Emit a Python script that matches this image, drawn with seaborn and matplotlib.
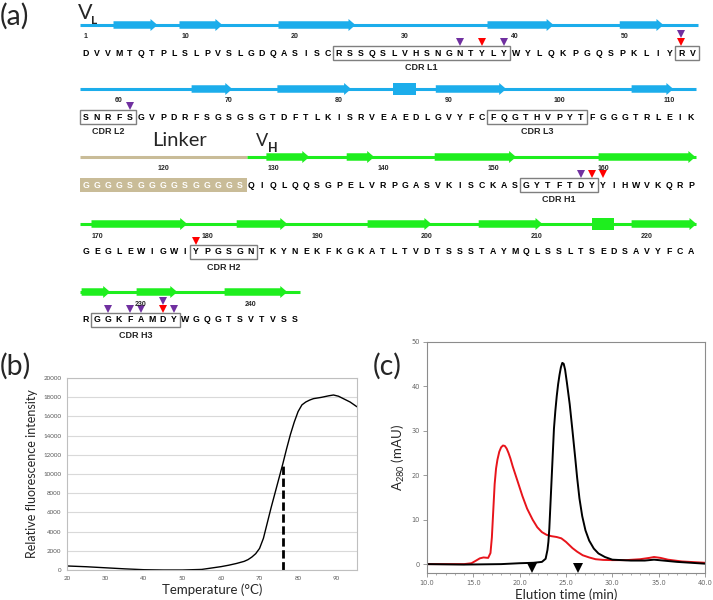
import numpy as np
import matplotlib
matplotlib.use("Agg")
import matplotlib.pyplot as plt
import seaborn as sns
from matplotlib.patches import FancyArrow, Rectangle

# -------------------------
# Data
# -------------------------
# (a) scFv sequence, one string per printed row
ROW_SEQS = [
    "DVVMTQTPLSLPVSLGDQASISCRSSQSLVHSNGNTYLYWYLQKPGQSPKLIYRV",
    "SNRFSGVPDRFSGSGSGTDFTLKISRVEAEDLGVYFCFQGTHVPYTFGGGTRLEIK",
    "GGGGSGGGGSGGGGSQIQLQQSGPELVRPGASVKISCKASGYTFTDYYIHWVKQRP",
    "GEGLEWIGWIYPGSGNTKYNEKFKGKATLTVDTSSSTAYMQLSSLTSEDSAVYFCA",
    "RGGKFAMDYWGQGTSVTVSS",
]
ROW_START = [1, 56, 112, 168, 224]
ROW_NUMBERS = [[1, 10, 20, 30, 40, 50], [60, 70, 80, 90, 100, 110],
               [120, 130, 140, 150, 160], [170, 180, 190, 200, 210, 220], [230, 240]]
CDR_NAMES = ["CDR L1", "CDR L2", "CDR L3", "CDR H1", "CDR H2", "CDR H3"]
CDR_FIRST = [24, 54, 93, 152, 178, 225]
CDR_LAST = [39, 60, 101, 158, 183, 232]
LINKER = (112, 126)
VL_STRANDS = [(3.5, 7.5), (9.5, 13.4), (18.5, 25.5), (37.5, 43.2), (48.8, 52.5),
              (65.6, 69.3), (73.4, 80.1), (87.8, 94.2), (105.6, 109.4)]
VL_HELIX = [(83.9, 86.0)]
VH_STRANDS = [(128.4, 132.3), (135.7, 138.2), (143.7, 151.1), (158.6, 167.4),
              (168.5, 177.2), (181.7, 186.3), (193.6, 199.4), (203.7, 209.5),
              (217.6, 223.5), (223.6, 226.2), (228.6, 232.3), (236.6, 242.3)]
VH_HELIX = [(214.0, 216.0)]
PURPLE_RES = [35, 39, 54, 60, 157, 226, 228, 229, 231, 232]
RED_RES = [37, 54, 158, 159, 178, 231]

# (b) thermal shift curve
TEMP = [20, 25, 30, 35, 40, 45, 50, 55, 60, 62, 64, 66, 67, 68, 69, 70, 71, 72, 73, 74,
        75, 76, 77, 78, 79, 80, 81, 82, 83, 84, 86, 88, 89.2, 90.5, 92, 93.5, 95.3]
FLUOR = [420, 340, 230, 120, 30, 0, 0, 60, 350, 500, 680, 900, 1080, 1350, 1700, 2250,
         3300, 4900, 6500, 8000, 9500, 11000, 12600, 14100, 15400, 16500, 17200, 17500,
         17700, 17850, 17980, 18150, 18230, 18100, 17800, 17500, 17000]
TM = 76.0
TM_HEIGHT = 11100

# (c) size exclusion chromatograms
RED_T = [10, 12, 14, 14.8, 15.3, 15.7, 16.1, 16.6, 16.85, 17.0, 17.15, 17.3, 17.45, 17.6,
         17.8, 18.0, 18.2, 18.4, 18.6, 18.8, 19.0, 19.25, 19.8, 20.3, 20.8, 21.4, 21.9,
         22.4, 22.9, 23.4, 24.0, 24.5, 25.0, 25.7, 26.2, 26.8, 27.5, 28.2, 29.0, 30.0,
         31.5, 33.0, 34.0, 34.5, 35.2, 36.0, 37.5, 40.0]
RED_A = [0, 0, 0, 0.2, 0.8, 1.3, 1.5, 1.4, 2.5, 6, 12, 18, 21.5, 23.5, 25.3, 26.3, 26.7,
         26.6, 26.0, 25.0, 23.8, 22, 18.5, 15.3, 12.5, 10, 8.3, 7.2, 6.6, 6.3, 6.1, 5.8,
         5.0, 3.6, 2.8, 2.0, 1.5, 1.1, 0.95, 0.9, 0.9, 1.1, 1.4, 1.6, 1.4, 1.0, 0.6, 0.3]
BLACK_T = [10, 14, 18, 20, 21.5, 22.4, 22.8, 23.0, 23.1, 23.2, 23.3, 23.4, 23.5, 23.6, 23.7,
           23.85, 24.0, 24.15, 24.3, 24.45, 24.6, 24.75, 24.9, 25.1, 25.4, 25.7, 26.0, 26.2,
           26.45, 26.75, 27.1, 27.5, 28.0, 28.5, 29.2, 30.0, 32.0, 33.5, 34.5, 35.5, 37.0,
           38.5, 40.0]
BLACK_A = [0, -0.1, 0, 0.2, 0.3, 0.5, 1.2, 3.2, 5, 8, 12.5, 17, 21.5, 26, 30.5, 34.5, 37.8,
           40.5, 42.6, 44.3, 45.3, 45.1, 43.8, 40.8, 36, 30, 23.8, 19.5, 14.8, 10.8, 7.6,
           5.3, 3.5, 2.4, 1.6, 1.0, 0.8, 0.8, 1.0, 0.8, 0.5, 0.3, 0.1]
MARKER_T = [21.3, 26.3]
MARKER_A = [-0.9, -0.9]

# -------------------------
# Style
# -------------------------
sns.set_style("white")
plt.rcParams["font.family"] = ["Lato", "DejaVu Sans"]
SEQ_FONT = "Liberation Sans"
BLUE = "#1CADEB"
GREEN = "#1EEE1E"
TAN = "#C9BC98"
PURPLE = "#7030A0"
RED = "#FF0000"

fig = plt.figure(figsize=(7.13, 6.0), dpi=100)

# -------------------------
# (a) sequence map, drawn in pixel-like units
# -------------------------
ax = fig.add_axes([0, 0, 1, 1])
ax.set_xlim(0, 713)
ax.set_ylim(600, 0)
ax.axis("off")

X0, PITCH = 86, 11.0
LINE_Y = [25, 89, 157, 224, 292]


def res_x(res, row):
    idx = res - ROW_START[row]
    if row == 0:
        # first row is set slightly looser after the CDR L1 box
        return np.interp(idx, [0, 38, 54], [86, 504, 693])
    return X0 + PITCH * idx


def row_of(res):
    return max(i for i, s in enumerate(ROW_START) if res >= s)


for row, seq in enumerate(ROW_SEQS):
    ly = LINE_Y[row]
    first, last = ROW_START[row], ROW_START[row] + len(seq) - 1
    color = BLUE if row < 2 else GREEN
    x_start, x_end = res_x(first, row) - 6, res_x(last, row) + 5
    if row == 2:
        x_link = res_x(LINKER[1], row) + 7
        ax.plot([x_start, x_link], [ly, ly], color=TAN, lw=2.2, solid_capstyle="butt")
        ax.plot([x_link, x_end], [ly, ly], color=color, lw=2.2, solid_capstyle="butt")
    else:
        ax.plot([x_start, x_end], [ly, ly], color=color, lw=2.2, solid_capstyle="butt")
    # residue letters
    for i, ch in enumerate(seq):
        res = first + i
        in_linker = LINKER[0] <= res <= LINKER[1]
        ax.text(res_x(res, row), ly + 28, ch, ha="center", va="center", fontsize=6.3,
                fontweight="bold", family=SEQ_FONT, color="white" if in_linker else "black",
                zorder=4)
    # residue numbers
    shift = 0 if row == 0 else 1
    for n in ROW_NUMBERS[row]:
        ax.text(X0 + PITCH * (n - first - shift), ly + 12, str(n), ha="center", va="center",
                fontsize=5, fontweight="bold", family=SEQ_FONT)

# linker box
ly = LINE_Y[2]
x0, x1 = res_x(LINKER[0], 2) - 6, res_x(LINKER[1], 2) + 7
ax.add_patch(Rectangle((x0, ly + 21), x1 - x0, 14, color=TAN, lw=0, zorder=2))

# secondary structure
for strands, helices in [(VL_STRANDS, VL_HELIX), (VH_STRANDS, VH_HELIX)]:
    for a, b in strands:
        row = row_of((a + b) / 2)
        xa, xb = res_x(a, row), res_x(b, row)
        ax.add_patch(FancyArrow(xa, LINE_Y[row], xb - xa, 0, width=7.5, head_width=12,
                                head_length=7, length_includes_head=True, lw=0,
                                color=BLUE if row < 2 else GREEN, zorder=3))
    for a, b in helices:
        row = row_of((a + b) / 2)
        xa, xb = res_x(a, row), res_x(b, row)
        ax.add_patch(Rectangle((xa, LINE_Y[row] - 6), xb - xa, 12, lw=0,
                               color=BLUE if row < 2 else GREEN, zorder=3))

# CDR boxes and labels
for name, a, b in zip(CDR_NAMES, CDR_FIRST, CDR_LAST):
    segs = []
    for row in range(len(ROW_SEQS)):
        lo = max(a, ROW_START[row])
        hi = min(b, ROW_START[row] + len(ROW_SEQS[row]) - 1)
        if lo <= hi:
            segs.append((row, lo, hi))
    for row, lo, hi in segs:
        xa, xb = res_x(lo, row) - 6, res_x(hi, row) + 6
        ax.add_patch(Rectangle((xa, LINE_Y[row] + 21), xb - xa, 14, fill=False,
                               ec="#7F7F7F", lw=1.0, zorder=3))
    row, lo, hi = segs[-1]
    ax.text((res_x(lo, row) + res_x(hi, row)) / 2, LINE_Y[row] + 43, name, ha="center",
            va="center", fontsize=6.5, fontweight="bold", family=SEQ_FONT)

# contact markers
for res in sorted(set(PURPLE_RES + RED_RES)):
    row = row_of(res)
    x, y = res_x(res, row), LINE_Y[row] + 17
    if res in RED_RES:
        ax.plot(x, y, marker="v", ms=5.5, color=RED, mew=0)
        y -= 8
    if res in PURPLE_RES:
        ax.plot(x, y, marker="v", ms=5.5, color=PURPLE, mew=0)

# region titles
ax.text(78, 13, "V", fontsize=15.5, va="center", ha="left")
ax.text(91, 20, "L", fontsize=8.5, va="center", ha="left", fontweight="bold")
ax.text(256, 141, "V", fontsize=13, va="center", ha="left")
ax.text(268, 148, "H", fontsize=9, va="center", ha="left", fontweight="bold")
ax.text(152, 140, "Linker", fontsize=14.5, va="center", ha="left")

# panel letters
ax.text(0, 16, "(a)", fontsize=20.5, va="center", ha="left")
ax.text(0, 366, "(b)", fontsize=20.5, va="center", ha="left")
ax.text(373, 366, "(c)", fontsize=20.5, va="center", ha="left")

# -------------------------
# (b) thermal shift assay
# -------------------------
axb = fig.add_axes([67 / 713, 30 / 600, 290 / 713, 192 / 600])
sns.lineplot(x=TEMP, y=FLUOR, ax=axb, color="black", linewidth=1.0, sort=False, estimator=None)
axb.plot([TM, TM], [0, TM_HEIGHT], color="black", lw=2.0, ls=(0, (3, 1.3)))
axb.set_xlim(20, 95.3)
axb.set_ylim(0, 20000)
axb.set_xticks(range(20, 91, 10))
axb.set_yticks(range(0, 20001, 2000))
axb.yaxis.grid(True, color="#D9D9D9", lw=0.8)
axb.xaxis.grid(False)
axb.set_axisbelow(True)
for sp in axb.spines.values():
    sp.set_color("#BFBFBF")
    sp.set_linewidth(0.8)
axb.tick_params(length=0, labelsize=4.5, labelcolor="#595959", pad=4)
axb.set_xlabel("Temperature (°C)", fontsize=9.5, labelpad=2)
axb.set_ylabel("Relative fluorescence intensity", fontsize=9, labelpad=4)

# -------------------------
# (c) size exclusion chromatography
# -------------------------
axc = fig.add_axes([427 / 713, 27 / 600, 278 / 713, 231 / 600])
sns.lineplot(x=RED_T, y=RED_A, ax=axc, color="#E8141B", linewidth=1.4, sort=False, estimator=None)
sns.lineplot(x=BLACK_T, y=BLACK_A, ax=axc, color="black", linewidth=1.4, sort=False, estimator=None)
axc.plot(MARKER_T, MARKER_A, ls="none", marker="v", ms=7, color="black", mew=0)
axc.set_xlim(10, 40)
axc.set_ylim(-2, 50)
axc.set_xticks(np.arange(10, 41, 5))
axc.set_xticklabels([f"{v:.1f}" for v in np.arange(10, 41, 5)])
axc.set_xticks(np.arange(10, 41, 1), minor=True)
axc.set_yticks(range(0, 51, 10))
for sp in axc.spines.values():
    sp.set_color("#8C8C8C")
    sp.set_linewidth(0.8)
axc.tick_params(which="major", direction="out", length=3, width=0.6, color="#8C8C8C",
                labelsize=4.8, labelcolor="#666666", pad=2)
axc.tick_params(which="minor", direction="out", length=1.5, width=0.5, color="#8C8C8C")
axc.tick_params(axis="x", which="both", bottom=True)
axc.tick_params(axis="y", which="both", left=True)
for lab in axc.get_xticklabels() + axc.get_yticklabels():
    lab.set_family("DejaVu Sans")
axc.set_xlabel("Elution time (min)", fontsize=9.5, labelpad=2)
axc.set_ylabel(r"A$_\mathregular{280}$ (mAU)", fontsize=9.5, labelpad=3)

fig.savefig("out.png", dpi=100)
